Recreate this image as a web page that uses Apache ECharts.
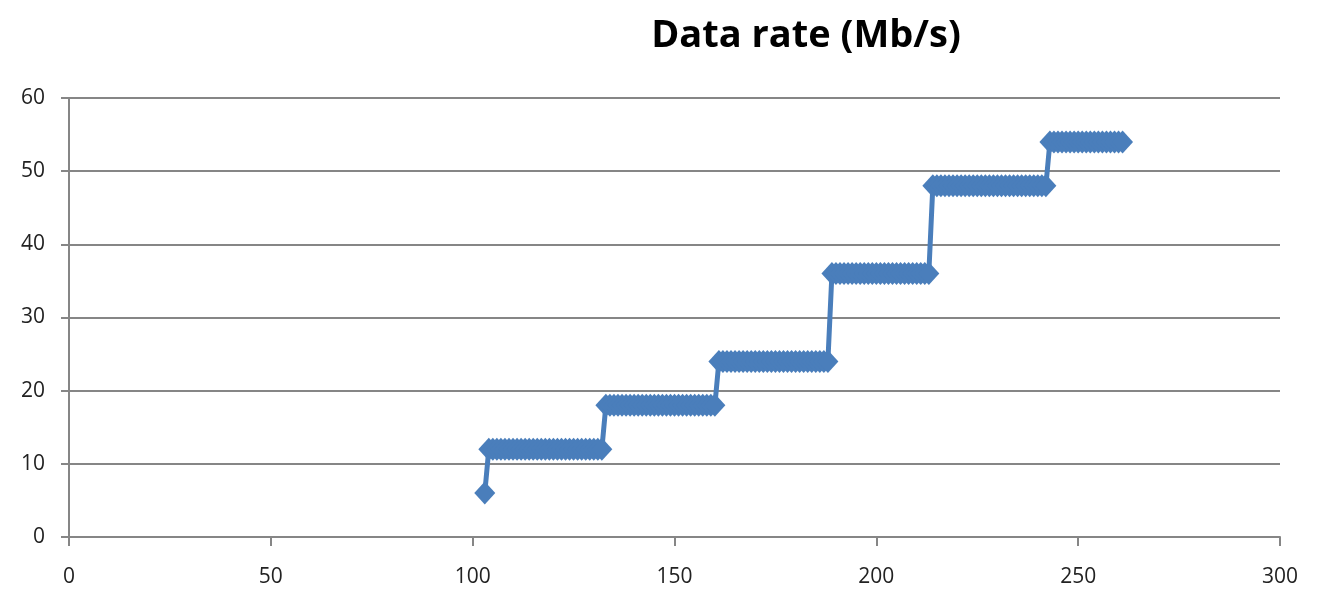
<!DOCTYPE html>
<html>
<head>
<meta charset="utf-8">
<script src="https://cdn.jsdelivr.net/npm/echarts@6/dist/echarts.min.js"></script>
<style>
  html, body { margin: 0; padding: 0; background: #fff; }
  #main { width: 1329px; height: 590px; }
</style>
</head>
<body>
<div id="main"></div>
<script>
// rate levels (Mb/s) and the x positions where each level was sampled
var levels = [6, 12, 18, 24, 36, 48, 54];
var xs6  = [103];
var xs12 = [104,105,106,107,108,109,110,111,112,113,114,115,116,117,118,119,120,121,122,123,124,125,126,127,128,129,130,131,132];
var xs18 = [133,134,135,136,137,138,139,140,141,142,143,144,145,146,147,148,149,150,151,152,153,154,155,156,157,158,159,160];
var xs24 = [161,162,163,164,165,166,167,168,169,170,171,172,173,174,175,176,177,178,179,180,181,182,183,184,185,186,187,188];
var xs36 = [189,190,191,192,193,194,195,196,197,198,199,200,201,202,203,204,205,206,207,208,209,210,211,212,213];
var xs48 = [214,215,216,217,218,219,220,221,222,223,224,225,226,227,228,229,230,231,232,233,234,235,236,237,238,239,240,241,242];
var xs54 = [243,244,245,246,247,248,249,250,251,252,253,254,255,256,257,258,259,260,261];

var groups = [xs6, xs12, xs18, xs24, xs36, xs48, xs54];
var points = [];
groups.forEach(function (xs, i) {
  xs.forEach(function (x) { points.push([x, levels[i]]); });
});

var chart = echarts.init(document.getElementById('main'));
chart.setOption({
  animation: false,
  title: {
    text: 'Data rate (Mb/s)',
    left: 801,
    textAlign: 'center',
    top: 12,
    textStyle: { fontFamily: 'Open Sans', fontWeight: 'bold', fontSize: 38, color: '#000' }
  },
  grid: { left: 69, right: 49, top: 98, bottom: 53, containLabel: false },
  xAxis: {
    type: 'value',
    min: 0, max: 300, interval: 50,
    axisLine: { show: true, lineStyle: { color: '#868686', width: 2 } },
    axisTick: { show: true, length: 9, lineStyle: { color: '#868686', width: 2 } },
    axisLabel: { margin: 30, fontFamily: 'Open Sans', fontSize: 21, color: '#222' },
    splitLine: { show: false }
  },
  yAxis: {
    type: 'value',
    min: 0, max: 60, interval: 10,
    axisLine: { show: true, lineStyle: { color: '#868686', width: 2 } },
    axisTick: { show: true, length: 8, lineStyle: { color: '#868686', width: 2 } },
    axisLabel: { margin: 24, fontFamily: 'Open Sans', fontSize: 21, color: '#222' },
    splitLine: { show: true, lineStyle: { color: '#868686', width: 2 } }
  },
  series: [{
    type: 'line',
    data: points,
    showAllSymbol: true,
    symbol: 'diamond',
    symbolSize: [21, 23],
    itemStyle: { color: '#4a7ebb' },
    lineStyle: { color: '#4a7ebb', width: 5 }
  }]
});
</script>
</body>
</html>
